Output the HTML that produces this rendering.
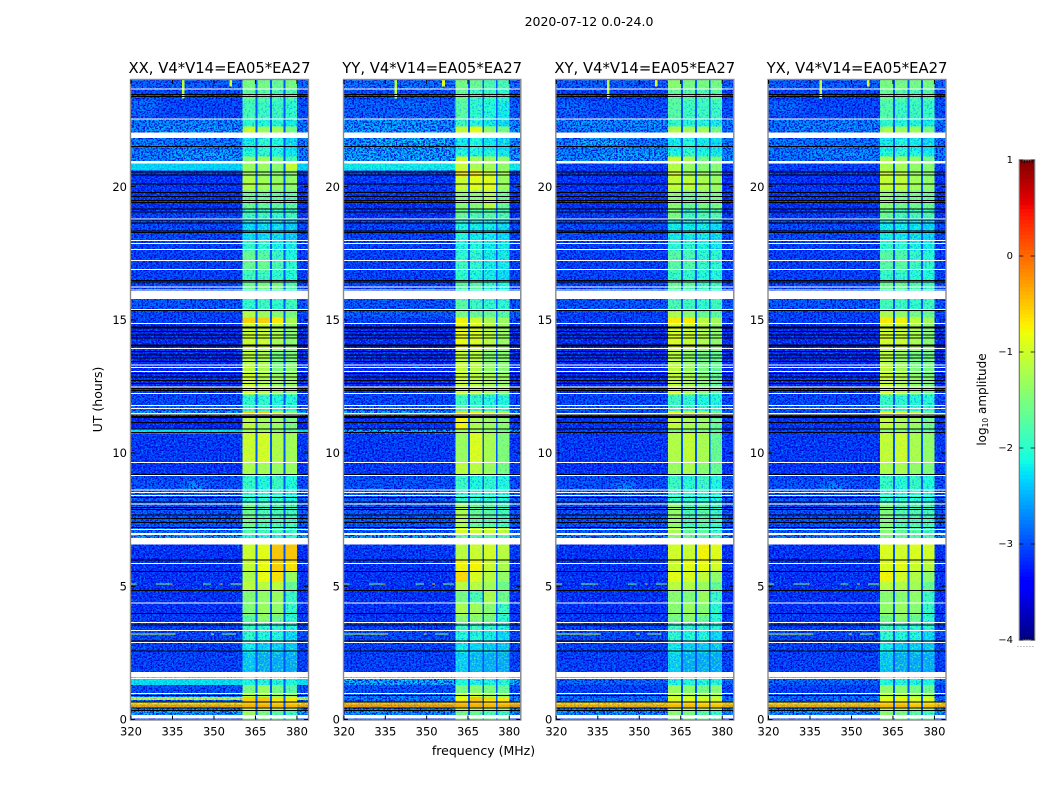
<!DOCTYPE html>
<html lang="en">
<head>
<meta charset="utf-8">
<title>2020-07-12 0.0-24.0</title>
<style>
html,body{margin:0;padding:0;background:#fff;width:1050px;height:800px;overflow:hidden}
svg{display:block}
text{font-family:"DejaVu Sans","Liberation Sans",sans-serif;fill:#000}
</style>
</head>
<body>
<svg id="figure" xmlns="http://www.w3.org/2000/svg" width="1050" height="800" viewBox="0 0 1050 800">
  <defs>
    <filter id="noise-bg-light" x="0" y="0" width="1" height="1" color-interpolation-filters="sRGB">
      <feTurbulence type="fractalNoise" baseFrequency="0.5 0.62" numOctaves="2" seed="4"/>
      <feColorMatrix type="matrix" values="0 0 0 0 0  0 0 0 0 0.5  0 0 0 0 1  6 0 0 0 -2.95"/>
    </filter>
    <filter id="noise-bg-dark" x="0" y="0" width="1" height="1" color-interpolation-filters="sRGB">
      <feTurbulence type="fractalNoise" baseFrequency="0.55 0.6" numOctaves="2" seed="11"/>
      <feColorMatrix type="matrix" values="0 0 0 0 0  0 0 0 0 0  0 0 0 0 0.84  6 0 0 0 -2.75"/>
    </filter>
    <filter id="noise-sig-light" x="0" y="0" width="1" height="1" color-interpolation-filters="sRGB">
      <feTurbulence type="fractalNoise" baseFrequency="0.5 0.62" numOctaves="2" seed="21"/>
      <feColorMatrix type="matrix" values="0 0 0 0 0.35  0 0 0 0 1  0 0 0 0 0.65  5 0 0 0 -2.5"/>
    </filter>
    <filter id="noise-sig-dark" x="0" y="0" width="1" height="1" color-interpolation-filters="sRGB">
      <feTurbulence type="fractalNoise" baseFrequency="0.55 0.6" numOctaves="2" seed="33"/>
      <feColorMatrix type="matrix" values="0 0 0 0 0  0 0 0 0 0.5  0 0 0 0 1  5 0 0 0 -2.6"/>
    </filter>
    <pattern id="speckle-bg-light" patternUnits="userSpaceOnUse" width="320" height="720"><rect width="320" height="720" filter="url(#noise-bg-light)"/></pattern>
    <pattern id="speckle-bg-dark" patternUnits="userSpaceOnUse" width="320" height="720"><rect width="320" height="720" filter="url(#noise-bg-dark)"/></pattern>
    <pattern id="speckle-sig-light" patternUnits="userSpaceOnUse" width="320" height="720"><rect width="320" height="720" filter="url(#noise-sig-light)"/></pattern>
    <pattern id="speckle-sig-dark" patternUnits="userSpaceOnUse" width="320" height="720"><rect width="320" height="720" filter="url(#noise-sig-dark)"/></pattern>
    <filter id="soften" x="-40%" y="-100%" width="180%" height="300%"><feGaussianBlur stdDeviation="4 2"/></filter>
  </defs>
  <text x="589" y="26" font-size="12.5" text-anchor="middle">2020-07-12 0.0-24.0</text>
  <text x="483.5" y="755" font-size="12.5" text-anchor="middle">frequency (MHz)</text>
  <text x="102" y="399.5" font-size="12.5" text-anchor="middle" transform="rotate(-90 102 399.5)">UT (hours)</text>
  <g id="panels"></g>
  <g id="colorbar"></g>
  <text x="986" y="399.5" font-size="12" text-anchor="middle" transform="rotate(-90 986 399.5)">log<tspan font-size="7.5" dy="2">10</tspan><tspan dy="-2"> amplitude</tspan></text>
</svg>
<script>
// ---- data: categories, ticks ----
const panelNames = ['XX', 'YY', 'XY', 'YX'];
const panelSuffix = ', V4*V14=EA05*EA27';
const freqTicks = [320, 335, 350, 365, 380];
const hourTicks = [0, 5, 10, 15, 20];
const colorTicks = [1, 0, -1, -2, -3, -4];
const colorTickLabels = ['1', '0', '\u22121', '\u22122', '\u22123', '\u22124'];

// Subband boundaries in MHz: background | s1 | gap | s2 | gap | s3 | gap | s4 | background
const subbandEdges = [320, 360.4, 365.1, 365.8, 370.2, 370.9, 375.2, 375.8, 380, 384];
const gapLevel = -2.95;

// Time band boundaries (UT hours), top to bottom
const bandEdgeHours = [24,23.68,23.23,22.55,22.25,22.03,21.84,21.35,21.13,20.94,
20.6,20.38,19.85,19.18,18.8,17.98,17.6,17.19,16.85,16.44,
16.1,15.77,15.32,15.09,14.87,13.85,13.29,12.99,12.43,12.2,
11.79,11.57,11.38,10.93,10.74,9.62,9.13,8.61,8.12,7.22,
6.92,6.58,5.98,5.57,5.16,4.82,4.33,3.92,3.62,3.32,
2.87,2.49,1.78,1.52,1.29,0.96,0.84,0.73,0.64,0.56,
0.45,0.34,0.17,0];

// log10 amplitude per time band: [background, s1, s2, s3, s4]
const levelsXX = [
[-2.8,-1.5,-1.5,-1.6,-1.5],[-2.95,-1.65,-1.7,-1.8,-1.75],[-2.95,-1.85,-1.9,-1.9,-2.0],[-2.6,-2.0,-2.1,-2.1,-2.2],[-2.6,-1.0,-1.3,-1.25,-1.5],
[-2.6,-2.0,-2.0,-2.0,-2.0],[-2.6,-2.2,-2.0,-2.1,-2.3],[-2.55,-2.1,-2.0,-2.1,-2.2],[-2.6,-1.4,-1.3,-1.5,-1.8],[-2.25,-1.3,-1.3,-1.4,-1.05],
[-3.1,-1.3,-1.35,-1.4,-1.4],[-3.1,-1.15,-1.25,-1.3,-1.35],[-3.1,-1.6,-1.65,-1.65,-1.7],[-3.0,-1.9,-1.9,-2.0,-1.9],[-2.95,-2.3,-2.3,-2.3,-2.4],
[-3.0,-2.0,-2.0,-2.15,-2.2],[-3.0,-1.6,-1.7,-1.9,-2.1],[-3.0,-1.6,-1.6,-1.8,-2.0],[-3.0,-1.9,-1.9,-2.0,-2.1],[-3.0,-1.6,-1.5,-1.5,-1.8],
[-2.9,-2.0,-2.0,-2.0,-2.0],[-2.85,-2.0,-1.9,-2.0,-1.9],[-3.0,-1.15,-1.3,-1.4,-1.5],[-3.0,-0.55,-0.55,-0.7,-1.2],[-3.15,-1.0,-1.0,-1.2,-1.4],
[-3.15,-1.1,-1.2,-1.5,-1.45],[-3.15,-1.1,-1.2,-1.45,-1.4],[-3.15,-0.95,-1.15,-1.3,-1.3],[-3.1,-0.9,-1.1,-1.3,-1.4],[-2.95,-2.0,-2.0,-2.1,-2.1],
[-2.8,-1.9,-1.9,-2.0,-2.0],[-2.3,-0.55,-0.55,-1.0,-1.4],[-3.2,-1.1,-1.25,-1.3,-1.5],[-2.2,-1.3,-1.3,-1.4,-1.6],[-3.05,-1.0,-0.95,-1.15,-1.25],
[-3.1,-1.2,-1.25,-1.3,-1.3],[-2.9,-1.95,-2.1,-1.9,-2.1],[-2.8,-2.0,-2.0,-2.0,-2.1],[-2.85,-1.55,-1.8,-1.8,-1.85],[-2.7,-1.7,-1.8,-1.8,-1.9],
[-2.4,-2.1,-2.1,-2.1,-2.1],[-3.1,-1.0,-0.85,-0.5,-0.5],[-3.1,-1.05,-0.8,-0.55,-0.65],[-3.1,-1.2,-0.8,-0.65,-1.3],[-3.1,-1.1,-1.1,-1.1,-1.6],
[-3.1,-1.45,-1.35,-1.3,-1.9],[-3.1,-1.45,-1.3,-1.35,-1.95],[-3.05,-1.7,-1.4,-1.55,-2.0],[-3.0,-1.95,-2.0,-2.0,-2.1],[-2.95,-2.0,-2.1,-2.1,-2.3],
[-3.0,-2.2,-2.35,-2.35,-2.4],[-3.0,-2.4,-2.55,-2.55,-2.55],[-2.4,-2.2,-2.2,-2.2,-2.2],[-2.2,-2.1,-2.1,-2.1,-2.1],[-2.9,-1.5,-1.3,-1.5,-1.7],
[-2.6,-1.1,-1.2,-1.3,-1.3],[-1.0,-0.55,-0.5,-0.65,-0.7],[-2.7,-0.55,-0.5,-0.7,-0.7],[-0.75,-0.55,-0.55,-0.6,-0.6],[-0.35,-0.35,-0.35,-0.4,-0.4],
[-2.5,-1.1,-1.15,-1.25,-1.3],[-2.4,-1.3,-1.5,-1.7,-1.9],[-3.0,-1.5,-1.5,-1.6,-1.7]];

const levelsYY = [
[-2.7,-1.5,-1.6,-1.8,-1.8],[-2.9,-1.6,-1.9,-1.95,-2.0],[-2.8,-1.7,-2.0,-2.1,-2.2],[-2.5,-1.9,-2.1,-2.2,-2.3],[-2.5,-1.05,-0.85,-1.35,-1.5],
[-2.5,-2.0,-2.0,-2.0,-2.0],[-2.5,-2.2,-2.1,-2.2,-2.3],[-2.4,-2.1,-2.1,-2.1,-2.2],[-2.35,-0.95,-1.25,-1.3,-1.35],[-2.15,-1.0,-1.2,-1.25,-1.35],
[-3.05,-0.65,-0.7,-1.0,-1.25],[-3.05,-1.0,-0.85,-0.85,-1.3],[-3.1,-1.4,-1.4,-1.15,-1.6],[-3.1,-1.6,-1.8,-1.75,-1.8],[-3.0,-2.1,-2.2,-2.2,-2.3],
[-3.0,-2.1,-2.1,-2.2,-2.2],[-3.0,-2.0,-2.0,-2.2,-2.2],[-3.0,-1.9,-2.0,-2.2,-2.2],[-3.0,-2.0,-2.1,-2.2,-2.3],[-3.0,-1.7,-1.7,-2.0,-2.1],
[-2.9,-2.0,-2.0,-2.0,-2.0],[-2.85,-1.7,-1.9,-2.0,-2.0],[-2.8,-1.5,-1.6,-1.6,-1.7],[-3.0,-0.75,-0.95,-1.2,-1.3],[-3.15,-0.8,-0.9,-1.1,-1.3],
[-3.15,-1.05,-1.1,-1.4,-1.4],[-3.15,-1.05,-1.15,-1.35,-1.4],[-3.15,-1.0,-1.1,-1.2,-1.3],[-3.1,-0.95,-1.1,-1.25,-1.35],[-2.95,-1.9,-2.0,-2.1,-2.1],
[-2.8,-1.7,-1.9,-1.9,-2.0],[-2.3,-0.6,-0.7,-1.05,-1.1],[-3.1,-0.75,-1.2,-1.3,-1.4],[-2.3,-1.3,-1.3,-1.4,-1.5],[-3.05,-1.3,-0.9,-1.2,-1.45],
[-3.05,-1.1,-1.1,-1.3,-1.5],[-2.9,-1.9,-2.1,-2.0,-2.1],[-2.8,-1.95,-2.0,-2.0,-2.1],[-2.85,-1.2,-1.6,-1.7,-1.85],[-2.8,-0.95,-1.0,-1.0,-1.1],
[-2.4,-1.6,-1.7,-1.7,-1.7],[-3.05,-1.1,-1.0,-0.95,-1.1],[-3.1,-0.75,-0.75,-1.0,-1.2],[-3.1,-0.6,-0.9,-1.1,-1.35],[-3.1,-1.1,-1.1,-1.25,-1.55],
[-3.1,-1.5,-1.8,-1.2,-1.55],[-3.1,-1.2,-1.25,-1.4,-1.9],[-3.05,-1.4,-1.4,-1.5,-2.0],[-3.0,-1.9,-1.9,-2.0,-2.1],[-2.95,-2.1,-2.1,-2.2,-2.3],
[-3.0,-2.2,-2.3,-2.35,-2.4],[-3.0,-2.35,-2.5,-2.55,-2.55],[-2.4,-2.2,-2.2,-2.2,-2.2],[-2.3,-2.1,-2.1,-2.1,-2.1],[-2.9,-1.5,-1.4,-1.5,-1.6],
[-2.6,-1.0,-1.0,-1.2,-1.3],[-2.6,-0.8,-0.5,-0.6,-0.7],[-2.7,-0.7,-0.5,-0.7,-0.7],[-0.6,-0.5,-0.5,-0.55,-0.55],[-0.3,-0.35,-0.35,-0.4,-0.35],
[-2.5,-1.1,-1.2,-1.3,-1.3],[-2.5,-1.5,-1.6,-1.8,-1.9],[-3.0,-1.5,-1.5,-1.6,-1.7]];

const levelsXY = [
[-2.8,-1.4,-1.5,-1.5,-1.5],[-3.0,-1.6,-1.7,-1.8,-1.7],[-2.9,-1.7,-1.9,-1.9,-1.9],[-2.6,-1.95,-2.1,-2.1,-2.2],[-2.7,-1.15,-1.25,-1.25,-1.5],
[-2.6,-2.0,-2.0,-2.0,-2.0],[-2.6,-2.2,-2.1,-2.2,-2.3],[-2.55,-2.1,-2.0,-2.1,-2.2],[-2.5,-1.05,-1.2,-1.5,-1.5],[-3.0,-1.15,-1.3,-1.4,-1.4],
[-3.1,-0.95,-1.3,-1.3,-1.4],[-3.1,-1.05,-1.05,-1.2,-1.3],[-3.1,-1.4,-1.6,-1.5,-1.5],[-3.05,-1.5,-1.9,-1.8,-1.75],[-2.95,-2.2,-2.2,-2.2,-2.3],
[-3.0,-2.0,-2.0,-2.15,-2.2],[-3.0,-1.7,-1.8,-2.0,-2.0],[-3.0,-1.7,-1.75,-1.95,-2.0],[-3.0,-1.95,-2.0,-2.1,-2.1],[-3.0,-1.6,-1.7,-1.9,-1.9],
[-2.9,-2.0,-2.0,-2.0,-2.0],[-2.85,-1.8,-1.9,-2.0,-1.9],[-3.0,-1.2,-1.4,-1.6,-1.7],[-3.0,-0.7,-0.7,-1.1,-1.25],[-3.15,-0.9,-1.0,-1.15,-1.35],
[-3.15,-1.1,-1.35,-1.5,-1.6],[-3.15,-1.1,-1.3,-1.5,-1.6],[-3.15,-1.05,-1.2,-1.4,-1.6],[-3.1,-0.95,-1.15,-1.4,-1.7],[-2.95,-1.9,-2.0,-2.1,-2.1],
[-2.85,-1.8,-1.9,-2.0,-2.0],[-2.9,-0.8,-1.0,-1.1,-1.5],[-3.1,-1.05,-1.2,-1.3,-1.6],[-3.0,-1.5,-1.5,-1.5,-1.7],[-3.05,-1.15,-1.05,-1.2,-1.6],
[-3.1,-1.3,-1.2,-1.4,-1.6],[-2.9,-1.9,-2.05,-1.9,-2.1],[-2.85,-1.95,-2.0,-2.0,-2.1],[-2.9,-1.35,-1.8,-1.7,-1.9],[-2.8,-1.2,-1.6,-1.7,-1.9],
[-2.6,-1.4,-1.6,-1.7,-1.9],[-3.1,-0.95,-1.0,-0.75,-0.85],[-3.1,-1.0,-0.85,-0.8,-0.95],[-3.1,-0.85,-0.9,-1.05,-1.35],[-3.1,-1.1,-1.15,-1.3,-1.6],
[-3.1,-1.4,-1.45,-1.3,-1.9],[-3.1,-1.4,-1.3,-1.4,-2.0],[-3.05,-1.5,-1.4,-1.6,-2.05],[-3.0,-1.9,-1.95,-2.0,-2.1],[-2.95,-2.0,-2.1,-2.1,-2.3],
[-3.0,-2.2,-2.35,-2.35,-2.4],[-3.0,-2.35,-2.55,-2.55,-2.55],[-2.8,-2.2,-2.2,-2.2,-2.2],[-2.75,-2.1,-2.1,-2.1,-2.1],[-3.0,-1.3,-1.4,-1.5,-1.4],
[-2.7,-1.1,-1.1,-1.2,-1.2],[-2.7,-0.9,-0.8,-0.9,-0.9],[-2.7,-0.9,-0.9,-1.0,-1.0],[-0.7,-0.6,-0.6,-0.65,-0.65],[-0.4,-0.4,-0.4,-0.45,-0.45],
[-2.5,-1.2,-1.2,-1.3,-1.3],[-2.5,-1.4,-1.5,-1.7,-1.9],[-3.0,-1.5,-1.5,-1.6,-1.7]];

const levelsYX = [
[-2.8,-1.5,-1.5,-1.5,-1.5],[-3.0,-1.6,-1.7,-1.8,-1.7],[-2.95,-1.75,-1.9,-1.9,-1.95],[-2.65,-2.0,-2.1,-2.1,-2.2],[-2.7,-1.2,-1.3,-1.3,-1.5],
[-2.6,-2.0,-2.0,-2.0,-2.0],[-2.65,-2.2,-2.1,-2.2,-2.3],[-2.6,-2.1,-2.0,-2.1,-2.2],[-2.7,-1.2,-1.3,-1.35,-1.5],[-3.0,-1.2,-1.25,-1.35,-1.4],
[-3.1,-1.0,-1.1,-1.3,-1.4],[-3.1,-1.05,-1.05,-1.25,-1.35],[-3.1,-1.4,-1.55,-1.55,-1.6],[-3.05,-1.6,-1.85,-1.85,-1.8],[-2.95,-2.2,-2.2,-2.25,-2.35],
[-3.0,-2.0,-2.0,-2.15,-2.2],[-3.0,-1.7,-1.75,-1.95,-2.05],[-3.0,-1.7,-1.7,-1.9,-2.0],[-3.0,-1.95,-1.95,-2.05,-2.1],[-3.0,-1.6,-1.6,-1.75,-1.9],
[-2.9,-2.0,-2.0,-2.0,-2.0],[-2.85,-1.85,-1.9,-2.0,-1.9],[-3.0,-1.2,-1.35,-1.5,-1.6],[-3.0,-0.7,-0.75,-1.1,-1.25],[-3.15,-0.95,-1.0,-1.2,-1.4],
[-3.15,-1.1,-1.3,-1.5,-1.5],[-3.15,-1.1,-1.25,-1.45,-1.5],[-3.15,-1.0,-1.15,-1.35,-1.45],[-3.1,-0.95,-1.1,-1.35,-1.5],[-2.95,-1.95,-2.0,-2.1,-2.1],
[-2.85,-1.85,-1.9,-2.0,-2.0],[-2.9,-0.75,-0.9,-1.1,-1.5],[-3.1,-1.05,-1.2,-1.3,-1.55],[-3.0,-1.45,-1.45,-1.5,-1.65],[-3.05,-1.05,-1.0,-1.2,-1.35],
[-3.1,-1.2,-1.2,-1.35,-1.45],[-2.9,-1.95,-2.05,-1.95,-2.1],[-2.85,-2.0,-2.0,-2.0,-2.1],[-2.9,-1.45,-1.75,-1.75,-1.85],[-2.8,-1.4,-1.6,-1.7,-1.85],
[-2.6,-1.5,-1.6,-1.7,-1.85],[-3.1,-0.9,-0.95,-0.9,-0.95],[-3.1,-0.9,-0.85,-1.0,-1.1],[-3.1,-0.75,-0.95,-1.15,-1.35],[-3.1,-1.1,-1.15,-1.25,-1.6],
[-3.1,-1.4,-1.4,-1.35,-1.9],[-3.1,-1.35,-1.3,-1.4,-1.95],[-3.05,-1.55,-1.4,-1.6,-2.0],[-3.0,-1.9,-2.0,-2.0,-2.1],[-2.95,-2.0,-2.1,-2.1,-2.3],
[-3.0,-2.2,-2.35,-2.35,-2.4],[-3.0,-2.4,-2.55,-2.55,-2.55],[-2.8,-2.2,-2.2,-2.2,-2.2],[-2.75,-2.1,-2.1,-2.1,-2.1],[-3.0,-1.35,-1.4,-1.5,-1.55],
[-2.7,-1.1,-1.1,-1.25,-1.25],[-2.7,-0.85,-0.75,-0.85,-0.85],[-2.7,-0.8,-0.85,-0.95,-0.95],[-0.7,-0.6,-0.6,-0.65,-0.65],[-0.4,-0.4,-0.4,-0.45,-0.45],
[-2.5,-1.15,-1.2,-1.3,-1.3],[-2.5,-1.4,-1.5,-1.7,-1.9],[-3.0,-1.5,-1.5,-1.6,-1.7]];

// Flagged (blank) data in UT hours
const whiteLineHours = [23.67,22.54,18.79,17.97,17.86,17.64,17.22,16.89,16.24,16.12,15.39,14.86,13.93,13.3,13.21,13.06,12.48,12.24,11.78,11.67,9.64,9.16,8.61,8.52,8.41,8.09,7.13,6.58,5.86,4.37,3.64,3.34,2.89,1.53,0.98];
const whiteBlockStart = [22.03,20.96,16.08,11.5,6.99,6.81,1.78,0.17];
const whiteBlockEnd = [21.83,20.87,15.78,11.43,6.92,6.61,1.57,0.045];
const blackLineHours = [23.45,23.39,21.5,20.54,20.43,20.09,19.78,19.63,19.47,19.4,19.15,19.05,18.75,18.64,18.33,18.28,16.47,16.42,15.35,14.73,14.69,14.56,14.43,14.31,14.05,14.01,13.81,13.68,13.56,13.43,12.99,12.85,12.73,12.61,12.43,12.35,11.42,11.38,11.33,11.15,10.9,10.78,9.2,8.33,8.17,7.96,7.88,7.67,7.54,7.39,7.21,5.99,5.56,4.84,3.98,3.55,2.95,2.57,0.91,0.66,0.44,0.34];

// Interference: horizontal lines [hour, freqLow, freqHigh, level]
const rfiLineHours = [5.08,5.08,5.08,5.08,5.08,5.08,3.2,3.2,3.2,3.2,3.2];
const rfiFreqLow = [320,329,334,346,352,356,320,325,334,349,353];
const rfiFreqHigh = [322,334,335,349,353,360,325,334,336,350,358];
const rfiLevels = [-1.3,-1.5,-0.3,-1.5,-0.5,-1.4,-1.2,-1.0,-0.9,-0.9,-1.4];
// Interference: vertical spikes near the top of the day
const spikeFreqLow = [338.4,355.6];
const spikeFreqHigh = [339.3,356.6];
const spikeHourLow = [23.3,23.75];
const spikeHourHigh = [24,24];
const spikeLevels = [-1.1,-0.9];

// Faint diffuse emission patches: freq range, hour range, level (XX, YY, XY, YX)
const patchesXX = [[335,358,20.95,21.4,-2.3],[326,360,22.0,22.45,-2.4],[340,346,8.55,8.95,-2.35],[320,330,22.65,23.3,-2.6]];
const patchesYY = [[328,358,21.55,21.85,-2.15],[322,360,21.0,21.5,-2.3],[322,355,22.05,22.5,-2.35],[338,352,23.0,23.2,-2.55]];
const patchesXY = [[335,358,21.0,21.4,-2.3],[327,345,21.55,21.8,-2.15],[325,360,22.1,22.5,-2.4],[342,348,8.6,8.9,-2.3],[321,330,22.7,23.2,-2.6]];
const patchesYX = [[335,358,21.05,21.4,-2.45],[326,360,22.1,22.45,-2.45],[340,347,8.6,8.9,-2.4],[320,332,22.7,23.2,-2.65]];

// ---- layout ----
const levelSets = [levelsXX, levelsYY, levelsXY, levelsYX];
const patchSets = [patchesXX, patchesYY, patchesXY, patchesYX];
const panelLeft = [131, 344, 556.3, 768.5];
const panelWidth = [177, 176.3, 177, 177];
const plotTop = 80, plotBottom = 719.5;
const freqMin = 320, freqMax = 384, hourMax = 24;
const colorTop = 160, colorBottom = 640, colorLeft = 1019.3, colorWidth = 15.4;
const SVGNS = 'http://www.w3.org/2000/svg';

function jetChannel(x, pts) {
  for (let i = 1; i < pts.length; i++) {
    if (x <= pts[i][0]) {
      const a = pts[i - 1], b = pts[i];
      return a[1] + (b[1] - a[1]) * (x - a[0]) / (b[0] - a[0]);
    }
  }
  return pts[pts.length - 1][1];
}
function jet(level) {
  const x = Math.max(0, Math.min(1, (level + 4) / 5));
  const r = jetChannel(x, [[0, 0], [0.35, 0], [0.66, 1], [0.89, 1], [1, 0.5]]);
  const g = jetChannel(x, [[0, 0], [0.125, 0], [0.375, 1], [0.64, 1], [0.91, 0], [1, 0]]);
  const b = jetChannel(x, [[0, 0.5], [0.11, 1], [0.34, 1], [0.65, 0], [1, 0]]);
  return 'rgb(' + Math.round(r * 255) + ',' + Math.round(g * 255) + ',' + Math.round(b * 255) + ')';
}
function hourY(h) { return plotBottom - (h / hourMax) * (plotBottom - plotTop); }
function colorY(v) { return colorTop + (1 - v) / 5 * (colorBottom - colorTop); }
function make(parent, tag, attrs) {
  const el = document.createElementNS(SVGNS, tag);
  for (const k in attrs) el.setAttribute(k, attrs[k]);
  parent.appendChild(el);
  return el;
}

const panelsGroup = document.getElementById('panels');
panelNames.forEach(function (name, p) {
  const left = panelLeft[p], width = panelWidth[p];
  const freqX = function (f) { return left + (f - freqMin) / (freqMax - freqMin) * width; };
  const levels = levelSets[p];

  const g = make(panelsGroup, 'g', {});
  
  
  const clipId = 'clip-' + name;
  const clip = make(g, 'clipPath', { id: clipId });
  make(clip, 'rect', { x: left, y: plotTop, width: width, height: plotBottom - plotTop });

  const heat = make(g, 'g', { 'clip-path': 'url(#' + clipId + ')', 'shape-rendering': 'crispEdges' });
  
  

  const noise = [];
  levels.forEach(function (row, t) {
    const y0 = hourY(bandEdgeHours[t]), y1 = hourY(bandEdgeHours[t + 1]);
    for (let c = 0; c < subbandEdges.length - 1; c++) {
      let level, kind;
      if (c === 0 || c === 8) { level = row[0]; kind = 'bg'; }
      else if (c % 2 === 1) { level = row[(c + 1) / 2]; kind = 'sig'; }
      else { level = gapLevel; kind = 'gap'; }
      const x0 = freqX(subbandEdges[c]), x1 = freqX(subbandEdges[c + 1]);
      const cell = make(heat, 'rect', { x: x0, y: y0, width: x1 - x0, height: y1 - y0, fill: jet(level) });
      
      
      noise.push({ x: x0, y: y0, w: x1 - x0, h: y1 - y0, level: level, kind: kind });
    }
  });

  const patches = make(g, 'g', { 'clip-path': 'url(#' + clipId + ')', opacity: 0.65 });
  
  
  const patchInner = make(patches, 'g', { filter: 'url(#soften)' });
  patchSets[p].forEach(function (q) {
    const patch = make(patchInner, 'rect', { x: freqX(q[0]), y: hourY(q[3]), width: freqX(q[1]) - freqX(q[0]), height: hourY(q[2]) - hourY(q[3]), fill: jet(q[4]) });
    
    
  });

  const speckle = make(g, 'g', { 'clip-path': 'url(#' + clipId + ')', 'shape-rendering': 'crispEdges' });
  
  
  noise.forEach(function (n) {
    if (n.kind === 'gap') return;
    let lightId, darkId, op;
    if (n.kind === 'sig') {
      lightId = 'speckle-sig-light'; darkId = 'speckle-sig-dark';
      op = Math.max(0.1, Math.min(0.75, (-1.2 - n.level) / 1.3));
    } else {
      lightId = 'speckle-bg-light'; darkId = 'speckle-bg-dark';
      op = n.level > -2.3 ? 0.2 : 0.9;
    }
    make(speckle, 'rect', { x: n.x, y: n.y, width: n.w, height: n.h, fill: 'url(#' + lightId + ')', opacity: op });
    make(speckle, 'rect', { x: n.x, y: n.y, width: n.w, height: n.h, fill: 'url(#' + darkId + ')', opacity: op });
  });

  const rfi = make(g, 'g', { 'clip-path': 'url(#' + clipId + ')', 'shape-rendering': 'crispEdges' });
  
  
  rfiLineHours.forEach(function (h, i) {
    const line = make(rfi, 'rect', { x: freqX(rfiFreqLow[i]), y: hourY(h) - 0.5, width: freqX(rfiFreqHigh[i]) - freqX(rfiFreqLow[i]), height: 1, fill: jet(rfiLevels[i]) });
    
    
  });
  spikeLevels.forEach(function (lv, i) {
    const spike = make(rfi, 'rect', { x: freqX(spikeFreqLow[i]), y: hourY(spikeHourHigh[i]), width: freqX(spikeFreqHigh[i]) - freqX(spikeFreqLow[i]), height: hourY(spikeHourLow[i]) - hourY(spikeHourHigh[i]), fill: jet(lv) });
    
    
  });

  const flags = make(g, 'g', { 'clip-path': 'url(#' + clipId + ')', 'shape-rendering': 'crispEdges' });
  
  
  whiteBlockStart.forEach(function (h, i) {
    const block = make(flags, 'rect', { x: left, y: hourY(h), width: width, height: hourY(whiteBlockEnd[i]) - hourY(h), fill: '#fff' });
    
    
  });
  whiteLineHours.forEach(function (h) {
    const line = make(flags, 'rect', { x: left, y: hourY(h) - 0.5, width: width, height: 1, fill: '#fff' });
    
    
  });
  blackLineHours.forEach(function (h) {
    const line = make(flags, 'rect', { x: left, y: hourY(h) - 0.5, width: width, height: 1, fill: '#000' });
    
    
  });

  // axes frame, ticks and labels
  const frame = make(g, 'rect', { x: left - 0.5, y: plotTop - 0.5, width: width + 1, height: plotBottom - plotTop + 1, fill: 'none', stroke: '#8a8a8a', 'stroke-width': 1.4 });
  
  

  freqTicks.forEach(function (f) {
    const x = freqX(f);
    make(g, 'path', { d: 'M' + x + ' ' + plotBottom + 'v-4M' + x + ' ' + plotTop + 'v4', stroke: '#000', 'stroke-width': 1, fill: 'none' });
    const label = make(g, 'text', { x: x, y: plotBottom + 16, 'font-size': 11.5, 'text-anchor': 'middle' });
    label.textContent = String(f);
    
    
  });
  hourTicks.forEach(function (h) {
    const y = hourY(h);
    make(g, 'path', { d: 'M' + left + ' ' + y + 'h4M' + (left + width) + ' ' + y + 'h-4', stroke: '#000', 'stroke-width': 1, fill: 'none' });
    const label = make(g, 'text', { x: left - 4, y: y + 4.2, 'font-size': 11.5, 'text-anchor': 'end' });
    label.textContent = String(h);
    
    
  });
  const title = make(g, 'text', { x: left + width / 2, y: 73, 'font-size': 14.8, 'text-anchor': 'middle' });
  title.textContent = name + panelSuffix;
  
  
});

// ---- colorbar ----
const bar = document.getElementById('colorbar');
const colorSteps = 128;
for (let i = 0; i < colorSteps; i++) {
  const v0 = 1 - 5 * i / colorSteps, v1 = 1 - 5 * (i + 1) / colorSteps;
  const seg = make(bar, 'rect', { x: colorLeft, y: colorY(v0), width: colorWidth, height: colorY(v1) - colorY(v0) + 0.3, fill: jet((v0 + v1) / 2), 'shape-rendering': 'crispEdges' });
  
  
}
const barFrame = make(bar, 'rect', { x: colorLeft, y: colorTop, width: colorWidth, height: colorBottom - colorTop, fill: 'none', stroke: '#777', 'stroke-width': 1.2 });


colorTicks.forEach(function (v, i) {
  const y = colorY(v);
  make(bar, 'path', { d: 'M' + colorLeft + ' ' + y + 'h4M' + (colorLeft + colorWidth) + ' ' + y + 'h-4', stroke: '#000', 'stroke-width': 0.8, fill: 'none' });
  const label = make(bar, 'text', { x: 1013, y: y + 3, 'font-size': 10, 'text-anchor': 'end' });
  label.textContent = colorTickLabels[i];
  
  
});
for (let k = 0; k < 5; k++) {
  const mx = colorLeft + 2.5 + k * 2.6;
  make(bar, 'path', { d: 'M' + mx + ' ' + colorTop + 'v3M' + mx + ' ' + colorBottom + 'v-3', stroke: '#000', 'stroke-width': 0.6, fill: 'none' });
}
const minorLabels = make(bar, 'text', { x: 1017, y: 647, 'font-size': 6, fill: '#555', 'letter-spacing': '1.1' });
minorLabels.textContent = '......';


</script>
</body>
</html>
